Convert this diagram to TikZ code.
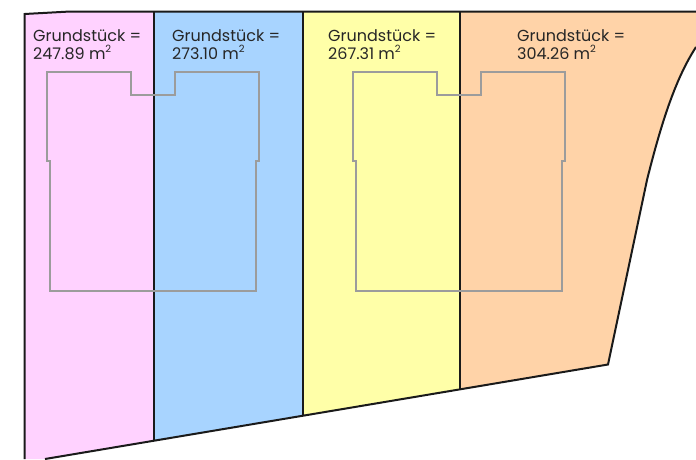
\documentclass[tikz,border=0pt]{standalone}
\usepackage{fontspec}
\setmainfont{Poppins}
\newcommand{\sqm}{m\raisebox{0.42em}{\fontsize{10}{10}\selectfont 2}}
\definecolor{plotpink}{HTML}{FFD2FF}
\definecolor{plotblue}{HTML}{A8D4FF}
\definecolor{plotyellow}{HTML}{FFFFA8}
\definecolor{plotorange}{HTML}{FFD3A8}
\definecolor{plotline}{HTML}{1A1A1A}
\definecolor{housegrey}{HTML}{9C9C9C}
\tikzset{
  plot/.style={line width=2pt,draw=plotline},
  house/.style={line width=1.1pt,draw=housegrey},
  arealabel/.style={anchor=north west,inner sep=0pt,align=left,text=black!85,font=\fontsize{16}{18}\selectfont}
}
\begin{document}
\begin{tikzpicture}[x=1pt,y=-1pt]
\useasboundingbox (0,0) rectangle (696,459);
\fill[plotpink] (24.5,14) -- (70,11.5) -- (153.5,11.5) -- (153.5,440.5) -- (45,459) -- (24.5,459) -- cycle;
\fill[plotblue] (153.5,11.5) -- (303,11.5) -- (303,415.5) -- (153.5,440.5) -- cycle;
\fill[plotyellow] (303,11.5) -- (459.5,11.5) -- (459.5,389.5) -- (303,415.5) -- cycle;
\fill[plotorange] (459.5,11.5) -- (696,11.5) -- (696,47) .. controls (676,78) and (662,120) .. (647,180) -- (608,364.5) -- (459.5,389.5) -- cycle;
\draw[plot] (24.5,459) -- (24.5,14) -- (70,11.5) -- (696,11.5);
\draw[plot] (696,47) .. controls (676,78) and (662,120) .. (647,180) -- (608,364.5) -- (45,459);
\draw[plot] (153.5,11.5) -- (153.5,440.5);
\draw[plot] (303,11.5) -- (303,415.5);
\draw[plot] (459.5,11.5) -- (459.5,389.5);
\foreach \dx in {0,306}{
  \draw[house,xshift=\dx pt] (47,72) -- (131,72) -- (131,95) -- (175,95) -- (175,72) -- (259,72) -- (259,161) -- (256,161) -- (256,291) -- (50,291) -- (50,161) -- (47,161) -- cycle;
}
\node[arealabel] (a) at (33,29.5) {Grundstück =\\247.89 \sqm};
\node[arealabel] (b) at (172,29.5) {Grundstück =\\273.10 \sqm};
\node[arealabel] (c) at (328,29.5) {Grundstück =\\267.31 \sqm};
\node[arealabel] (d) at (517,29.5) {Grundstück =\\304.26 \sqm};
\end{tikzpicture}
\end{document}
